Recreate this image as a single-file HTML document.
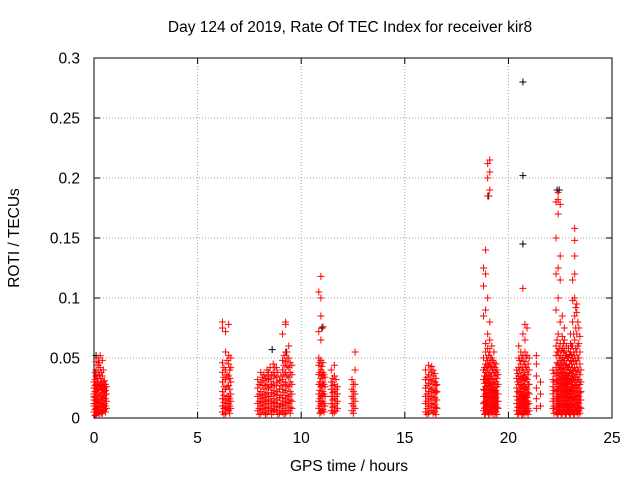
<!DOCTYPE html>
<html><head><meta charset="utf-8"><style>
body{margin:0;background:#fff}
svg text{font-family:"Liberation Sans",sans-serif;fill:#000}
</style></head><body>
<svg id="chart" width="640" height="480" xmlns="http://www.w3.org/2000/svg">
<rect width="640" height="480" fill="#fff"/>
<text x="350" y="32" font-size="15.5" text-anchor="middle">Day 124 of 2019, Rate Of TEC Index for receiver kir8</text>
<text x="349" y="471" font-size="15.5" text-anchor="middle">GPS time / hours</text>
<text transform="translate(19,238) rotate(-90)" font-size="15.5" text-anchor="middle">ROTI / TECUs</text>
<g id="grid"></g><g id="axes"></g><g id="black"></g><g id="red"></g>
</svg>
<script>
// x ticks (hours), y ticks (TECU)
const xTicks=[0,5,10,15,20,25];
const yTicks=[0,0.05,0.1,0.15,0.2,0.25,0.3];
const yTickLabels=["0","0.05","0.1","0.15","0.2","0.25","0.3"];
// red series: [hour, [ROTI values in 0.001 TECU]]
const redColumns=[
[0.0,[5,10,15,20,25,30,12,18]],[0.1,[3,8,14,22,28,35,40,47]],[0.2,[5,10,16,24,30,38,50,44]],
[0.3,[6,12,18,26,33,42,52,28]],[0.4,[4,9,15,21,27,35,48]],[0.5,[7,12,19,25,31,22]],[0.6,[8,14,20,26]],
[0.05,[2,7,12,17,22,27,32,38]],[0.15,[4,9,13,19,24,30,33]],[0.25,[3,7,13,20,27,36,46]],[0.35,[4,9,15,23,30,38]],[0.45,[6,11,17,24,30,40]],[0.55,[5,10,16,23,28]],
[6.2,[5,10,16,22,30,38,46,75,80]],[6.35,[4,9,15,24,32,40,55,72]],[6.5,[6,12,18,27,35,45,52,78]],[6.6,[8,14,20,30,42,50]],
[6.27,[3,8,13,19,26,34,42]],[6.42,[7,12,18,26,36,48]],[6.55,[4,10,16,24,33,40]],
[7.9,[6,12,18,25,32]],[8.05,[4,10,16,22,30,38]],[8.2,[5,11,17,24,31,36]],[8.35,[4,9,15,21,28,35,40]],
[8.5,[6,12,18,26,33,42]],[8.65,[5,10,16,23,30,38,45]],[8.8,[6,12,19,27,34,42]],[8.95,[4,10,17,24,31]],
[7.97,[3,8,14,20,28]],[8.12,[7,13,19,27,34]],[8.27,[3,8,14,20,27,33]],[8.42,[6,12,18,25,32,38]],[8.57,[3,8,14,21,28,36]],[8.72,[7,13,20,27,35,42]],[8.87,[3,9,15,22,30,38]],
[9.1,[5,11,17,24,32,40,48,70]],[9.25,[4,10,16,23,30,38,47,55,78,80]],[9.4,[6,12,18,26,34,42,50,60]],[9.55,[8,14,20,28,36,44]],
[9.02,[6,12,19,27,35]],[9.17,[3,8,14,21,28,36,44,52]],[9.32,[6,13,19,27,35,43,50]],[9.47,[4,9,15,22,30,38,46]],
[10.85,[8,14,20,28,36,44,50,72,105]],[10.95,[5,12,18,26,33,40,48,65,85,100,118]],[11.05,[7,14,22,30,38,46,76]],[11.15,[10,18,26,34]],
[10.9,[4,10,16,23,30,38,46]],[11.0,[6,12,19,27,35,43]],[11.1,[5,12,20,28,36]],
[11.45,[6,12,18,24,30,40]],[11.6,[5,10,16,22,28,35,44]],[11.75,[8,14,20,26]],
[11.52,[4,9,15,21,27,33]],[11.68,[6,12,18,24,32]],
[12.45,[6,12,18,24,32]],[12.6,[8,14,20,28,40,55]],[12.52,[4,10,16,22,28]],
[16.0,[5,12,18,25,32,40]],[16.15,[4,10,16,22,29,36,44]],[16.3,[6,12,18,24,31,38,43]],[16.45,[5,11,17,23,30,37]],[16.55,[8,15,22,28]],
[16.07,[3,8,14,20,27,34]],[16.22,[6,12,18,25,32,40]],[16.37,[4,9,15,21,28,35,40]],[16.5,[3,9,15,21,27,33]],
[18.8,[6,12,18,24,32,40,50,85,110,125]],[18.9,[4,9,14,20,26,32,38,45,55,62,90,120,140]],
[19.0,[5,10,15,21,27,33,40,48,58,70,100,185,200,212]],[19.1,[4,9,14,20,26,32,38,46,55,65,80,190,205,215]],
[19.2,[5,10,16,22,28,35,42,50,60]],[19.3,[6,12,18,24,30,38,46,55]],[19.4,[5,11,17,23,30,38,45]],[19.5,[8,14,20,28,36]],
[18.85,[3,8,13,18,23,29,35,42]],[18.95,[6,11,17,23,29,35,42,50]],[19.05,[3,7,12,18,24,30,36,44,52]],[19.15,[6,11,17,23,29,35,43,50]],
[19.25,[3,8,13,19,25,32,40,48]],[19.35,[3,9,15,21,28,35,42]],[19.45,[3,9,14,20,26,33,40]],
[20.4,[6,12,18,25,33,40]],[20.5,[4,9,15,21,28,35,42,50,60]],[20.6,[5,10,16,22,28,35,45,55]],
[20.7,[3,8,14,20,27,34,42,52,70,108]],[20.8,[4,9,15,21,28,36,45,55,65,78]],[20.9,[5,11,17,24,32,40,52,75]],[21.0,[6,12,20,28,40,50]],
[20.45,[3,9,15,22,30,37]],[20.55,[6,12,18,25,32,40,48]],[20.65,[3,8,13,19,25,32,40,50]],[20.75,[5,11,17,24,31,38,47]],
[20.85,[6,12,18,25,33,42,50]],[20.95,[3,8,14,21,28,36,45]],
[21.35,[8,16,25,35,45,52]],[21.55,[10,20,30]],
[22.15,[8,14,20,26,32,40]],[22.3,[5,10,16,22,28,35,42,52,60,90,120,150,180]],
[22.4,[4,9,14,20,26,32,38,45,55,70,100,125,170,182,188]],[22.5,[5,10,15,20,26,32,38,45,52,62,80,115,135,178]],
[22.6,[4,9,14,19,25,31,37,44,50,58,68,85]],[22.7,[5,10,15,21,27,33,40,48,56,65,75]],[22.8,[4,9,14,20,26,32,38,45,52,60]],
[22.9,[5,10,16,22,28,35,42,50,58]],[23.0,[4,9,14,20,26,33,40,48,55,62,70]],[23.1,[5,10,16,22,28,35,42,50,60,80,98,115]],
[23.2,[4,9,15,21,27,34,42,52,65,85,100,120,135,148,158]],[23.3,[5,10,16,22,28,36,45,55,70,88,95]],
[23.4,[6,12,18,25,32,40,50,62,75]],[23.5,[8,15,22,30,40]],
[22.2,[4,10,16,23,30,37]],[22.35,[3,7,12,18,24,31,38,46,55,65]],[22.45,[6,11,17,23,29,35,42,50,58]],
[22.55,[3,7,12,17,23,29,35,41,48,56]],[22.65,[6,11,17,22,28,34,41,48,55,62]],[22.75,[3,7,12,18,24,30,36,44,52]],
[22.85,[6,11,17,23,29,35,42,50]],[22.95,[3,7,12,18,24,31,38,45,53]],[23.05,[6,11,17,23,30,37,45,52,60]],
[23.15,[3,7,12,18,25,32,39,47,55,70]],[23.25,[6,12,18,25,31,39,48,58,75,92]],[23.35,[3,8,13,19,25,32,40,50,60,80]],
[23.45,[4,9,15,21,28,36,45,55,68]]
];
// black series: hours and ROTI (0.001 TECU)
const blackHours=[8.6,20.7,20.7,20.7,22.45,19.05,11.0,9.3,22.35,0.1];
const blackValues=[57,280,202,145,190,185,75,55,190,52];

const X0=94,X1=612,Y0=418,Y1=58;
const sx=h=>X0+(h-0)/(25-0)*(X1-X0);
const sy=v=>Y0-(v-0)/(0.3-0)*(Y0-Y1);
const NS="http://www.w3.org/2000/svg";
function mk(tag,attrs,parent){const e=document.createElementNS(NS,tag);for(const k in attrs)e.setAttribute(k,attrs[k]);parent.appendChild(e);return e;}
const grid=document.getElementById('grid'),axes=document.getElementById('axes');
xTicks.forEach(t=>{const x=sx(t);
 if(t>0&&t<25){const g=mk('line',{x1:x,x2:x,y1:Y0,y2:Y1,stroke:'#a0a0a0','stroke-dasharray':'1,2'},grid);
 
 }
 mk('line',{x1:x,x2:x,y1:Y0,y2:Y0-6,stroke:'#000'},axes);
 mk('line',{x1:x,x2:x,y1:Y1,y2:Y1+6,stroke:'#000'},axes);
 const l=mk('text',{x:x,y:Y0+25,'font-size':15.5,'text-anchor':'middle'},axes);l.textContent=t;
 
 
});
yTicks.forEach((t,i)=>{const y=sy(t);
 if(i>0&&i<yTicks.length-1){const g=mk('line',{x1:X0,x2:X1,y1:y,y2:y,stroke:'#a0a0a0','stroke-dasharray':'1,2'},grid);
 
 }
 mk('line',{x1:X0,x2:X0+6,y1:y,y2:y,stroke:'#000'},axes);
 mk('line',{x1:X1,x2:X1-6,y1:y,y2:y,stroke:'#000'},axes);
 const l=mk('text',{x:X0-14,y:y+5.5,'font-size':15.5,'text-anchor':'end'},axes);l.textContent=yTickLabels[i];
 
 
});
const frame=mk('rect',{x:X0,y:Y1,width:X1-X0,height:Y0-Y1,fill:'none',stroke:'#000'},axes);


function plus(h,v,color,parent,name){const x=sx(h),y=sy(v/1000);
 const p=mk('path',{d:`M${x-3.5},${y}H${x+3.5}M${x},${y-3.5}V${y+3.5}`,stroke:color,'stroke-width':1,fill:'none'},parent);
 
 }
const red=document.getElementById('red'),black=document.getElementById('black');
redColumns.forEach(c=>c[1].forEach(v=>plus(c[0],v,'#ff0000',red,'roti-point-red')));
blackHours.forEach((h,i)=>plus(h,blackValues[i],'#000',black,'roti-point-black'));
</script>
</body></html>
